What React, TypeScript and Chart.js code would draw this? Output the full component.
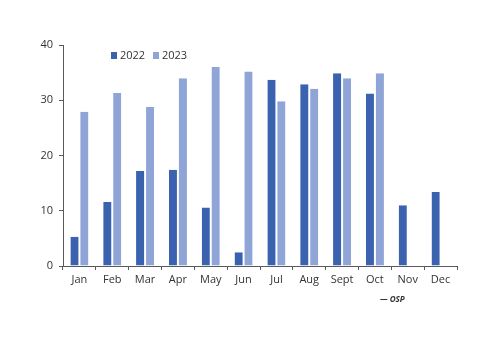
import React, { useEffect, useRef } from "react";
import { Chart, registerables } from "chart.js";

Chart.register(...registerables);

const months = ["Jan", "Feb", "Mar", "Apr", "May", "Jun", "Jul", "Aug", "Sept", "Oct", "Nov", "Dec"];
const series2022 = [5.3, 11.6, 17.2, 17.4, 10.6, 2.5, 33.7, 32.9, 34.9, 31.2, 11.0, 13.4];
const series2023 = [27.9, 31.3, 28.8, 34.0, 36.0, 35.2, 29.8, 32.1, 34.0, 34.9, null, null];
const yTicks = [0, 10, 20, 30, 40];
const seriesNames = ["2022", "2023"];
const sourceText = "— OSP";

const C2022 = "#3A62AE";
const C2023 = "#8FA5D7";
const AXIS = "#5a5a5a";
const FONT = "'Open Sans', 'DejaVu Sans', sans-serif";

export default function App() {
  const ref = useRef<HTMLCanvasElement | null>(null);

  useEffect(() => {
    if (!ref.current) return;

    const overlay = {
      id: "overlay",
      afterDraw(chart: any) {
        const ctx = chart.ctx;
        ctx.save();
        // legend
        const colors = [C2022, C2023];
        const xs = [111, 153];
        ctx.font = `11px ${FONT}`;
        ctx.textBaseline = "middle";
        ctx.textAlign = "left";
        seriesNames.forEach((n, i) => {
          ctx.fillStyle = colors[i];
          ctx.fillRect(xs[i], 52, 6, 7);
          ctx.fillStyle = "#333";
          ctx.fillText(n, xs[i] + 9, 56);
        });
        // source
        ctx.font = `italic bold 8px ${FONT}`;
        ctx.fillStyle = "#333";
        ctx.fillText(sourceText, 380, 300);
        ctx.restore();
      },
    };

    const chart = new Chart(ref.current, {
      type: "bar",
      data: {
        labels: months,
        datasets: [
          {
            label: seriesNames[0],
            data: series2022,
            backgroundColor: C2022,
            borderColor: "#ffffff",
            borderWidth: { left: 0, right: 1, top: 0, bottom: 0 } as any,
            barPercentage: 1,
            categoryPercentage: 0.55,
          },
          {
            label: seriesNames[1],
            data: series2023 as any,
            backgroundColor: C2023,
            borderColor: "#ffffff",
            borderWidth: { left: 1, right: 0, top: 0, bottom: 0 } as any,
            barPercentage: 1,
            categoryPercentage: 0.55,
          },
        ],
      },
      options: {
        animation: false,
        responsive: true,
        maintainAspectRatio: false,
        layout: { padding: { left: 0, right: 43, top: 45, bottom: 0 } },
        plugins: { legend: { display: false }, tooltip: { enabled: false } },
        scales: {
          x: {
            grid: {
              display: true,
              drawOnChartArea: false,
              drawTicks: true,
              tickLength: 4,
              color: AXIS,
              offset: true,
            },
            border: { display: true, color: AXIS, width: 1 },
            ticks: {
              color: "#333",
              font: { family: FONT, size: 11 },
              padding: 3,
              maxRotation: 0,
              autoSkip: false,
            },
            afterFit(scale: any) {
              scale.height = 87;
            },
          },
          y: {
            min: 0,
            max: 40,
            afterBuildTicks(scale: any) {
              scale.ticks = yTicks.map((v) => ({ value: v }));
            },
            grid: {
              display: true,
              drawOnChartArea: false,
              drawTicks: true,
              tickLength: 4,
              color: AXIS,
            },
            border: { display: true, color: AXIS, width: 1 },
            ticks: {
              color: "#333",
              font: { family: FONT, size: 11 },
              padding: 6,
            },
            afterFit(scale: any) {
              scale.width = 63;
            },
          },
        },
      },
      plugins: [overlay],
    });
    return () => chart.destroy();
  }, []);

  return (
    <div style={{ position: "fixed", left: 0, top: 0, width: 500, height: 353, background: "#fff" }}>
      <canvas ref={ref} />
    </div>
  );
}
